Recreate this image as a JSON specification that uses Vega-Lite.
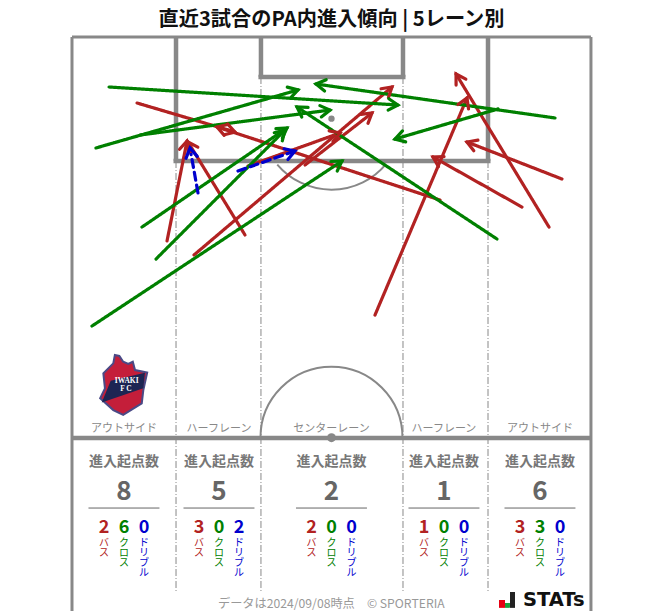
{
"$schema":"https://vega.github.io/schema/vega-lite/v6.json",
"width":663,"height":611,"padding":0,"autosize":"none",
"background":"white",
"title":{"text":"直近3試合のPA内進入傾向 | 5レーン別","font":"Noto Sans CJK JP","fontSize":20.2,"fontWeight":"bold","color":"#111111","anchor":"middle","baseline":"bottom","offset":0,"dy":50,"dx":0},
"config":{"view":{"stroke":null},"font":"Noto Sans CJK JP"},
"resolve":{"scale":{"color":"independent"}},
"datasets":{
"arrows":[
{"kind":"パス","x":8.52,"y":8.65,"x2":21.36,"y2":12.45,"heading":106.5},
{"kind":"パス","x":48.22,"y":21.36,"x2":19.0,"y2":11.79,"heading":288.1},
{"kind":"パス","x":12.45,"y":26.73,"x2":15.07,"y2":13.63,"heading":11.3},
{"kind":"パス","x":22.67,"y":25.94,"x2":15.2,"y2":13.76,"heading":328.5},
{"kind":"パス","x":15.99,"y":28.56,"x2":41.93,"y2":6.55,"heading":49.7},
{"kind":"パス","x":23.06,"y":16.9,"x2":35.12,"y2":12.58,"heading":70.3},
{"kind":"パス","x":30.53,"y":16.77,"x2":39.31,"y2":9.96,"heading":52.2},
{"kind":"パス","x":39.7,"y":36.43,"x2":51.76,"y2":7.99,"heading":23},
{"kind":"パス","x":62.5,"y":24.9,"x2":50.32,"y2":4.85,"heading":328.7},
{"kind":"パス","x":64.2,"y":18.61,"x2":51.76,"y2":13.76,"heading":291.3},
{"kind":"パス","x":58.96,"y":22.28,"x2":47.3,"y2":15.72,"heading":299.3},
{"kind":"クロス","x":4.85,"y":6.55,"x2":42.71,"y2":8.91,"heading":93.6},
{"kind":"クロス","x":63.29,"y":10.61,"x2":31.97,"y2":6.16,"heading":278.1},
{"kind":"クロス","x":3.14,"y":14.54,"x2":29.61,"y2":6.94,"heading":74},
{"kind":"クロス","x":8.91,"y":12.84,"x2":33.81,"y2":9.57,"heading":82.5},
{"kind":"クロス","x":55.82,"y":9.43,"x2":42.32,"y2":13.37,"heading":253.8},
{"kind":"クロス","x":55.69,"y":26.47,"x2":29.48,"y2":9.17,"heading":303.4},
{"kind":"クロス","x":9.17,"y":24.9,"x2":28.17,"y2":11.92,"heading":55.7},
{"kind":"クロス","x":11.01,"y":29.09,"x2":27.91,"y2":12.19,"heading":45},
{"kind":"クロス","x":2.62,"y":37.87,"x2":35.38,"y2":16.25,"heading":56.6},
{"kind":"ドリブル","x":16.51,"y":20.44,"x2":15.46,"y2":14.54,"heading":350},
{"kind":"ドリブル","x":21.75,"y":17.56,"x2":29.22,"y2":14.94,"heading":70.7}
],
"lanes":[
{"x":6.81,"name":"アウトサイド","total":8,"y_name":51.35,"y_head":55.75,"y_total":59.65},
{"x":19.26,"name":"ハーフレーン","total":5,"y_name":51.35,"y_head":55.75,"y_total":59.65},
{"x":34,"name":"センターレーン","total":2,"y_name":51.35,"y_head":55.75,"y_total":59.65},
{"x":48.74,"name":"ハーフレーン","total":1,"y_name":51.35,"y_head":55.75,"y_total":59.65},
{"x":61.32,"name":"アウトサイド","total":6,"y_name":51.35,"y_head":55.75,"y_total":59.65}
],
"counts":[
{"x":4.19,"kind":"パス","label":"バ\nス","n":2,"y":64.33,"y_label":65.7},{"x":6.81,"kind":"クロス","label":"ク\nロ\nス","n":6,"y":64.33,"y_label":65.7},{"x":9.43,"kind":"ドリブル","label":"ド\nリ\nブ\nル","n":0,"y":64.33,"y_label":65.7},
{"x":16.64,"kind":"パス","label":"バ\nス","n":3,"y":64.33,"y_label":65.7},{"x":19.26,"kind":"クロス","label":"ク\nロ\nス","n":0,"y":64.33,"y_label":65.7},{"x":21.88,"kind":"ドリブル","label":"ド\nリ\nブ\nル","n":2,"y":64.33,"y_label":65.7},
{"x":31.38,"kind":"パス","label":"バ\nス","n":2,"y":64.33,"y_label":65.7},{"x":34,"kind":"クロス","label":"ク\nロ\nス","n":0,"y":64.33,"y_label":65.7},{"x":36.62,"kind":"ドリブル","label":"ド\nリ\nブ\nル","n":0,"y":64.33,"y_label":65.7},
{"x":46.12,"kind":"パス","label":"バ\nス","n":1,"y":64.33,"y_label":65.7},{"x":48.74,"kind":"クロス","label":"ク\nロ\nス","n":0,"y":64.33,"y_label":65.7},{"x":51.36,"kind":"ドリブル","label":"ド\nリ\nブ\nル","n":0,"y":64.33,"y_label":65.7},
{"x":58.7,"kind":"パス","label":"バ\nス","n":3,"y":64.33,"y_label":65.7},{"x":61.32,"kind":"クロス","label":"ク\nロ\nス","n":3,"y":64.33,"y_label":65.7},{"x":63.94,"kind":"ドリブル","label":"ド\nリ\nブ\nル","n":0,"y":64.33,"y_label":65.7}
]
},
"encoding":{
"x":{"field":"x","type":"quantitative","axis":null,"scale":{"domain":[-9.434,77.44],"nice":false,"zero":false}},
"y":{"field":"y","type":"quantitative","axis":null,"scale":{"domain":[75.21,-4.848],"nice":false,"zero":false}}
},
"layer":[
{"data":{"values":[{"x":0,"x2":0,"y":0,"y2":76},{"x":68,"x2":68,"y":0,"y2":76},{"x":0,"x2":68,"y":0,"y2":0}]},
 "mark":{"type":"rule","stroke":"#888888","strokeWidth":3},
 "encoding":{"x2":{"field":"x2"},"y2":{"field":"y2"}}},
{"data":{"values":[{"x":13.63,"x2":13.63,"y":16.25,"y2":72.6},{"x":54.51,"x2":54.51,"y":16.25,"y2":72.6},{"x":24.76,"x2":24.76,"y":5.24,"y2":72.6},{"x":43.37,"x2":43.37,"y":5.24,"y2":72.6}]},
 "mark":{"type":"rule","stroke":"#888888","strokeWidth":1,"strokeDash":[7,2,1,2]},
 "encoding":{"x2":{"field":"x2"},"y2":{"field":"y2"}}},
{"data":{"values":[{"x":13.63,"x2":13.63,"y":0,"y2":16.25},{"x":54.51,"x2":54.51,"y":0,"y2":16.25},{"x":13.3,"x2":54.84,"y":16.25,"y2":16.25},{"x":24.76,"x2":24.76,"y":0,"y2":5.24},{"x":43.37,"x2":43.37,"y":0,"y2":5.24},{"x":24.43,"x2":43.7,"y":5.24,"y2":5.24},{"x":0,"x2":68,"y":52.55,"y2":52.55}]},
 "mark":{"type":"rule","stroke":"#888888","strokeWidth":4.5},
 "encoding":{"x2":{"field":"x2"},"y2":{"field":"y2"}}},
{"data":{"values":[{"x":34,"y":52.5}]},
 "mark":{"type":"arc","radius":71,"innerRadius":71,"theta":-1.5708,"theta2":1.5708,"filled":false,"stroke":"#888888","strokeWidth":2}},
{"data":{"values":[{"x":34,"y":10.7}]},
 "mark":{"type":"arc","radius":71,"innerRadius":71,"theta":2.27,"theta2":4.01,"filled":false,"stroke":"#888888","strokeWidth":2}},
{"data":{"values":[{"x":34,"y":10.7}]},"mark":{"type":"point","filled":true,"fill":"#888888","opacity":1,"size":40}},
{"data":{"values":[{"x":34,"y":52.5}]},"mark":{"type":"point","filled":true,"fill":"#888888","opacity":1,"size":80}},
{"data":{"name":"arrows"},
 "mark":{"type":"rule","strokeWidth":3.2,"strokeCap":"round"},
 "encoding":{"x2":{"field":"x2"},"y2":{"field":"y2"},
  "color":{"field":"kind","type":"nominal","legend":null,"scale":{"domain":["パス","クロス","ドリブル"],"range":["#b22222","#008000","#0000cd"]}},
  "strokeDash":{"field":"kind","type":"nominal","legend":null,"scale":{"domain":["パス","クロス","ドリブル"],"range":[[1,0],[1,0],[8,5]]}}}},
{"data":{"name":"arrows"},
 "mark":{"type":"point","shape":"M-0.6,1L0,0L0.6,1","filled":false,"strokeWidth":3.2,"opacity":1,"size":361,"strokeCap":"round"},
 "encoding":{
  "x":{"field":"x2","type":"quantitative","axis":null,"scale":{"domain":[-9.434,77.44],"nice":false,"zero":false}},
  "y":{"field":"y2","type":"quantitative","axis":null,"scale":{"domain":[75.21,-4.848],"nice":false,"zero":false}},
  "angle":{"field":"heading","type":"quantitative","legend":null,"scale":{"domain":[0,360],"range":[0,360]}},
  "color":{"field":"kind","type":"nominal","legend":null,"scale":{"domain":["パス","クロス","ドリブル"],"range":["#b22222","#008000","#0000cd"]}}}},
{"data":{"values":[{"x":6.75,"y":45.53}]},
 "mark":{"type":"point","shape":"M-0.27,-0.92L-0.13,-0.89L-0.01,-0.71L0.15,-0.64L0.29,-0.71L0.36,-0.45L0.74,-0.37L0.62,0.17L0.57,0.59L-0.01,0.95L-0.32,0.8L-0.73,0.43L-0.58,0.12L-0.63,-0.35L-0.32,-0.66Z","filled":true,"fill":"#c41e3a","stroke":"#4a4a86","strokeWidth":2,"opacity":1,"size":4096}},
{"data":{"values":[{"x":6.75,"y":45.53}]},
 "mark":{"type":"point","shape":"M-0.4,-0.12L0.67,-0.37L0.62,0.12L-0.68,0.56Z","filled":true,"fill":"#1c2553","opacity":1,"size":4096}},
{"data":{"values":[{"x":7.17,"y":45.05,"t":"IWAKI"},{"x":7.07,"y":46.15,"t":"F C"}]},
 "mark":{"type":"text","font":"Liberation Serif","fontWeight":"bold","fontSize":7.5,"fill":"white","baseline":"middle","align":"center"},
 "encoding":{"text":{"field":"t"}}},
{"data":{"name":"lanes"},
 "mark":{"type":"text","fontSize":11,"fill":"#888888","baseline":"middle","align":"center","font":"Noto Sans CJK JP"},
 "encoding":{"y":{"field":"y_name","type":"quantitative","axis":null,"scale":{"domain":[75.21,-4.848],"nice":false,"zero":false}},"text":{"field":"name"}}},
{"data":{"name":"lanes"},
 "mark":{"type":"text","fontSize":14,"fontWeight":"bold","fill":"#777777","baseline":"middle","align":"center","text":"進入起点数","font":"Noto Sans CJK JP"},
 "encoding":{"y":{"field":"y_head","type":"quantitative","axis":null,"scale":{"domain":[75.21,-4.848],"nice":false,"zero":false}}}},
{"data":{"name":"lanes"},
 "mark":{"type":"text","fontSize":26,"fontWeight":"bold","fill":"#666666","baseline":"middle","align":"center","font":"Noto Sans CJK JP"},
 "encoding":{"y":{"field":"y_total","type":"quantitative","axis":null,"scale":{"domain":[75.21,-4.848],"nice":false,"zero":false}},"text":{"field":"total"}}},
{"data":{"values":[{"x":2.16,"x2":11.46,"y":61.72},{"x":14.61,"x2":23.91,"y":61.72},{"x":29.35,"x2":38.65,"y":61.72},{"x":44.09,"x2":53.39,"y":61.72},{"x":56.67,"x2":65.97,"y":61.72}]},
 "mark":{"type":"rule","stroke":"#666666","strokeWidth":1},
 "encoding":{"x2":{"field":"x2"}}},
{"data":{"name":"counts"},
 "mark":{"type":"text","fontSize":18,"fontWeight":"bold","baseline":"middle","align":"center","font":"Noto Sans CJK JP"},
 "encoding":{"text":{"field":"n"},
  "color":{"field":"kind","type":"nominal","legend":null,"scale":{"domain":["パス","クロス","ドリブル"],"range":["#b22222","#008000","#0000cd"]}}}},
{"data":{"name":"counts"},
 "mark":{"type":"text","fontSize":10,"lineHeight":10,"lineBreak":"\n","baseline":"top","align":"center","font":"Noto Sans CJK JP"},
 "encoding":{"y":{"field":"y_label","type":"quantitative","axis":null,"scale":{"domain":[75.21,-4.848],"nice":false,"zero":false}},"text":{"field":"label"},
  "color":{"field":"kind","type":"nominal","legend":null,"scale":{"domain":["パス","クロス","ドリブル"],"range":["#b22222","#008000","#0000cd"]}}}},
{"data":{"values":[{"x":19.13,"y":74.29,"t":"データは2024/09/08時点"},{"x":38.65,"y":74.29,"t":"© SPORTERIA"}]},
 "mark":{"type":"text","fontSize":12.2,"fill":"#999999","baseline":"middle","align":"left","font":"Noto Sans CJK JP"},
 "encoding":{"text":{"field":"t"}}},
{"data":{"values":[{"x":55.95,"x2":56.74,"y":73.77,"y2":74.8,"c":"r"},{"x":56.74,"x2":57.39,"y":74.16,"y2":74.8,"c":"g"},{"x":57.39,"x2":58.05,"y":72.72,"y2":74.8,"c":"k"}]},
 "mark":{"type":"rect"},
 "encoding":{"x2":{"field":"x2"},"y2":{"field":"y2"},
  "color":{"field":"c","type":"nominal","legend":null,"scale":{"domain":["r","g","k"],"range":["#e60012","#1a9e3c","#222222"]}}}},
{"data":{"values":[{"x":59.09,"y":73.77,"t":"STATs"}]},
 "mark":{"type":"text","font":"DejaVu Sans","fontWeight":"bold","fontSize":19.5,"fill":"#111111","baseline":"middle","align":"left"},
 "encoding":{"text":{"field":"t"}}}
]
}
